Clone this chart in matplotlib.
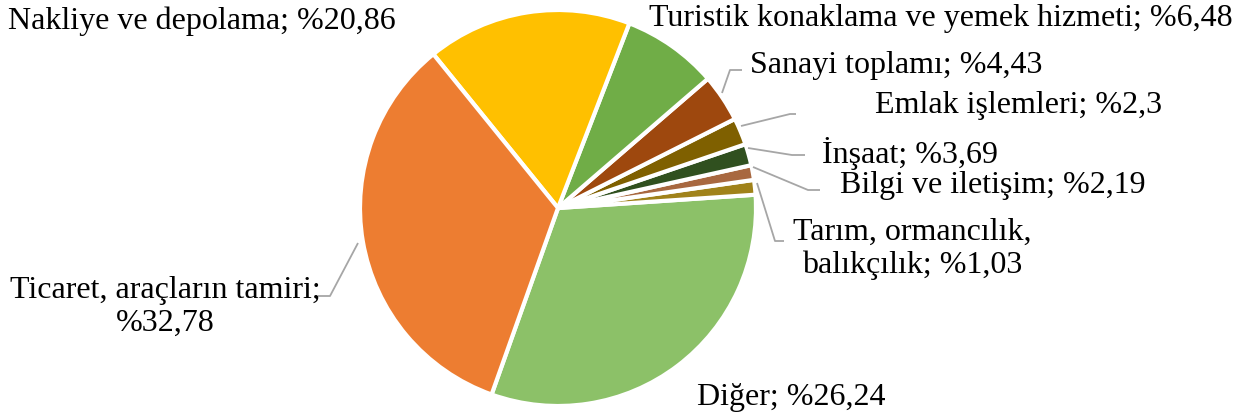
import numpy as np
import matplotlib.pyplot as plt

#%% Data (slice sizes read from the drawn angles, label texts as printed)
sectors = ['Diğer', 'Tarım, ormancılık,\nbalıkçılık', 'Bilgi ve iletişim', 'İnşaat',
           'Emlak işlemleri', 'Sanayi toplamı', 'Turistik konaklama ve yemek hizmeti',
           'Nakliye ve depolama', 'Ticaret, araçların tamiri;\n']
shares  = [31.5, 1.2, 1.2, 1.75, 2.2, 3.9, 7.8, 16.7, 33.7]
pct_txt = ['%26,24', '%1,03', '%2,19', '%3,69', '%2,3', '%4,43', '%6,48', '%20,86', '%32,78']
colours = ['#8cc168', '#a0821a', '#a86840', '#30501f', '#7f6000', '#9e480e',
           '#70ad47', '#ffc000', '#ed7d31']

#%% Figure in pixel coordinates
W, H = 1248, 419
fig = plt.figure(figsize=(W/100, H/100), dpi=100)
ax  = fig.add_axes([0, 0, 1, 1])
plt.rcParams['font.family'] = ['Liberation Serif', 'DejaVu Serif']

cx, cy, R = 558, H - 208, 198
explode = [0.012, 0, 0, 0, 0, 0, 0, 0, 0]
ax.pie(shares, colors=colours, startangle=-109.6, counterclock=True,
       center=(cx, cy), radius=R, explode=explode,
       wedgeprops=dict(edgecolor='white', linewidth=3))
ax.set_xlim(0, W)
ax.set_ylim(0, H)
ax.set_aspect('equal')
ax.axis('off')

fs = 23
txt_kw = dict(fontsize=fs, color='black')

def fmt(i):
    if sectors[i].endswith('\n'):
        return sectors[i] + pct_txt[i]
    return sectors[i] + '; ' + pct_txt[i]

def lbl(i, x, y, ha='left'):
    ax.text(x, H - y, fmt(i), ha=ha, va='center', linespacing=1.2, **txt_kw)

def leader(pts):
    p = np.array(pts, dtype=float)
    ax.plot(p[:, 0], H - p[:, 1], color='#a6a6a6', lw=1.3, solid_capstyle='butt')

lbl(7, 396, 21, ha='right')
lbl(6, 1233, 19, ha='right')
lbl(5, 750, 66)
lbl(4, 875, 106)
lbl(3, 822, 153)
lbl(2, 840, 186)
lbl(1, 912, 249, ha='center')
lbl(0, 697, 398)
lbl(8, 165, 307, ha='center')

# leader lines
leader([(722, 93), (730, 70), (742, 70)])
leader([(741, 126), (790, 114), (796, 114)])
leader([(748, 148), (792, 155), (805, 155)])
leader([(753, 167), (808, 190), (820, 190)])
leader([(757, 183), (775, 241), (784, 241)])
leader([(358, 243), (330, 296), (318, 296)])

fig.savefig('out.png', dpi=100)
